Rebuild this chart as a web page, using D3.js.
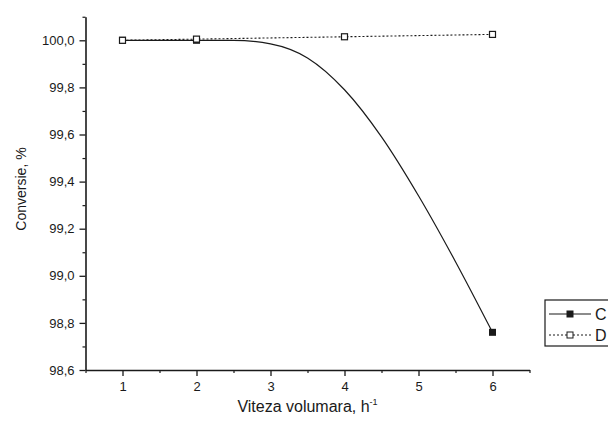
<!DOCTYPE html>
<html>
<head>
<meta charset="utf-8">
<script src="https://cdn.jsdelivr.net/npm/d3@7/dist/d3.min.js"></script>
<style>
  html, body { margin: 0; padding: 0; background: #fff; }
  svg { display: block; font-family: "Liberation Sans", Arial, sans-serif; }
</style>
</head>
<body>
<svg id="chart" width="608" height="421"></svg>
<script>
// Space velocity (h^-1) vs. conversion (%)
const xTicks = [1, 2, 3, 4, 5, 6];
const yTicks = [98.6, 98.8, 99.0, 99.2, 99.4, 99.6, 99.8, 100.0];

// Series C: readings along the smooth curve, and the measured points with markers
const cCurveX = [1, 2, 2.5, 3, 3.5, 4, 4.5, 5, 5.5, 6];
const cCurveY = [100.0, 100.0, 100.0, 99.985, 99.925, 99.79, 99.59, 99.34, 99.06, 98.76];
const cPointX = [1, 2, 6];
const cPointY = [100.0, 100.0, 98.76];

// Series D
const dX = [1, 2, 4, 6];
const dY = [100.0, 100.005, 100.015, 100.025];

const seriesNames = ["C", "D"];

const svg = d3.select("#chart");
const ink = "#1a1a1a";

const x = d3.scaleLinear().domain([0.5, 6.5]).range([85.5, 529.5]);
const y = d3.scaleLinear().domain([98.6, 100.1]).range([370, 16.75]);

const fmt = v => d3.format(".1f")(v).replace(".", ",");

// minor ticks
const yMinor = d3.range(98.7, 100.15, 0.2).map(v => +v.toFixed(1));
const xMinor = d3.range(0.5, 6.6, 1).map(v => +v.toFixed(1));

const gMinorY = svg.append("g").attr("transform", `translate(${x(0.5)},0)`)
  .call(d3.axisLeft(y).tickValues(yMinor).tickSize(3).tickFormat(""));
const gMinorX = svg.append("g").attr("transform", `translate(0,${y(98.6)})`)
  .call(d3.axisBottom(x).tickValues(xMinor).tickSize(3).tickFormat(""));
[gMinorY, gMinorX].forEach(g => {
  g.select(".domain").remove();
  g.selectAll("line").attr("stroke", ink).attr("stroke-width", 1.2);
});

// major axes
const gy = svg.append("g").attr("transform", `translate(${x(0.5)},0)`)
  .call(d3.axisLeft(y).tickValues(yTicks).tickSize(6).tickPadding(5).tickFormat(fmt).tickSizeOuter(0));
const gx = svg.append("g").attr("transform", `translate(0,${y(98.6)})`)
  .call(d3.axisBottom(x).tickValues(xTicks).tickSize(6).tickPadding(6).tickFormat(d3.format("d")).tickSizeOuter(0));

[gy, gx].forEach(g => {
  g.select(".domain").attr("stroke", ink).attr("stroke-width", 1.6);
  g.selectAll(".tick line").attr("stroke", ink).attr("stroke-width", 1.3);
  g.selectAll(".tick text").attr("fill", ink).attr("font-size", 13)
    .attr("font-family", "'Liberation Sans', Arial, sans-serif");
});

// axis titles
svg.append("text")
  .attr("transform", `translate(26,189) rotate(-90)`)
  .attr("text-anchor", "middle").attr("font-size", 14).attr("fill", ink)
  .text("Conversie, %");

const xt = svg.append("text")
  .attr("x", (x(0.5) + x(6.5)) / 2).attr("y", 412)
  .attr("text-anchor", "middle").attr("font-size", 16).attr("fill", ink);
xt.append("tspan").text("Viteza volumara, h");
xt.append("tspan").attr("dy", -7).attr("font-size", 9).text("-1");

const dData = dX.map((v, i) => [v, dY[i]]);
const cCurve = cCurveX.map((v, i) => [v, cCurveY[i]]);
const cPts = cPointX.map((v, i) => [v, cPointY[i]]);

// series D (dotted)
svg.append("path").datum(dData)
  .attr("d", d3.line().x(d => x(d[0])).y(d => y(d[1])))
  .attr("fill", "none").attr("stroke", ink).attr("stroke-width", 1.1)
  .attr("stroke-dasharray", "2,2");

// series C (solid smooth curve)
svg.append("path").datum(cCurve)
  .attr("d", d3.line().x(d => x(d[0])).y(d => y(d[1])).curve(d3.curveMonotoneX))
  .attr("fill", "none").attr("stroke", ink).attr("stroke-width", 1.2);

const ms = 7;
svg.append("g").selectAll("rect").data(cPts).join("rect")
  .attr("x", d => x(d[0]) - ms / 2).attr("y", d => y(d[1]) - ms / 2)
  .attr("width", ms).attr("height", ms).attr("fill", ink);

svg.append("g").selectAll("rect").data(dData).join("rect")
  .attr("x", d => x(d[0]) - ms / 2 + 0.5).attr("y", d => y(d[1]) - ms / 2 + 0.5)
  .attr("width", ms - 1).attr("height", ms - 1)
  .attr("fill", "#fff").attr("stroke", ink).attr("stroke-width", 1.2);

// legend
const lg = svg.append("g").attr("transform", "translate(545,300)");
lg.append("rect").attr("x", 0).attr("y", 0).attr("width", 70).attr("height", 46)
  .attr("fill", "#fff").attr("stroke", ink).attr("stroke-width", 1.2);
seriesNames.forEach((name, i) => {
  const yy = 14 + i * 21;
  lg.append("line").attr("x1", 4).attr("x2", 46).attr("y1", yy).attr("y2", yy)
    .attr("stroke", ink).attr("stroke-width", i === 0 ? 1.2 : 1)
    .attr("stroke-dasharray", i === 0 ? null : "2,2");
  lg.append("rect").attr("x", 25 - ms / 2 + (i ? 0.5 : 0)).attr("y", yy - ms / 2 + (i ? 0.5 : 0))
    .attr("width", i ? ms - 1 : ms).attr("height", i ? ms - 1 : ms)
    .attr("fill", i === 0 ? ink : "#fff").attr("stroke", ink).attr("stroke-width", i ? 1 : 0);
  lg.append("text").attr("x", 50).attr("y", yy + 6).attr("font-size", 16).attr("fill", ink).text(name);
});
</script>
</body>
</html>
